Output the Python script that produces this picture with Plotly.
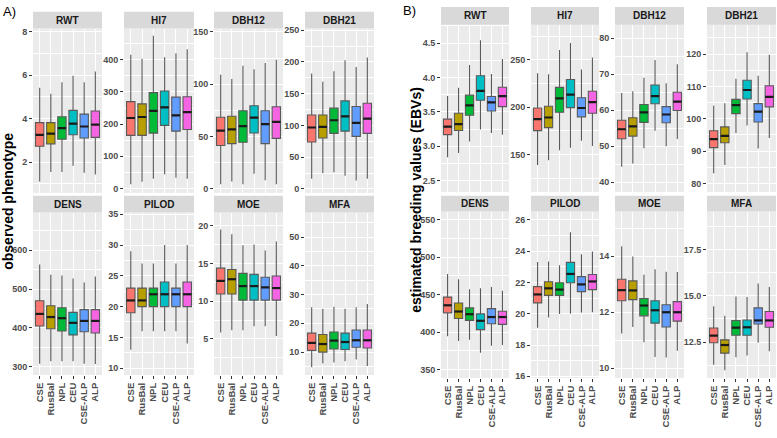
import plotly.graph_objects as go

# ---------------- data ----------------
categories = ["CSE", "RusBal", "NPL", "CEU", "CSE-ALP", "ALP"]
colors = ["#F8766D", "#B79F00", "#00BA38", "#00BFC4", "#619CFF", "#F564E3"]
traits = ["RWT", "HI7", "DBH12", "DBH21", "DENS", "PILOD", "MOE", "MFA"]

# Panel A: observed phenotype (lower whisker, Q1, median, Q3, upper whisker)
A_RWT = {"low": [1.10, 1.54, 1.54, 1.83, 1.51, 1.43], "q1": [2.73, 2.84, 3.05, 3.26, 3.11, 3.14],
         "med": [3.25, 3.31, 3.56, 3.77, 3.64, 3.73], "q3": [3.82, 3.82, 4.09, 4.38, 4.21, 4.35],
         "high": [5.43, 5.15, 5.68, 5.98, 5.68, 6.17]}
A_HI7 = {"low": [13, 21, 30, 44, 33, 30], "q1": [165, 165, 172, 196, 178, 183],
         "med": [219, 222, 241, 252, 227, 237], "q3": [270, 263, 298, 303, 284, 285],
         "high": [416, 403, 475, 408, 420, 433]}
A_DBH12 = {"low": [4.4, 7.2, 4.4, 14.4, 8.2, 4.4], "q1": [41.4, 43.3, 44.6, 53.4, 43.3, 48.3],
           "med": [55.6, 56.8, 60.0, 68.1, 61.8, 64.0], "q3": [68.4, 69.4, 74.7, 79.4, 74.7, 78.5],
           "high": [109, 105, 117.7, 114.2, 120.2, 123.3]}
A_DBH21 = {"low": [16, 24.8, 26.4, 20.7, 13.5, 16], "q1": [74, 80.2, 87.5, 91.1, 82.8, 87.5],
           "med": [96.8, 97.8, 108.2, 114.4, 104, 110.8], "q3": [116.5, 116.5, 127.3, 138.7, 129.9, 135.1],
           "high": [181.7, 168.7, 185.3, 202.9, 192, 207]}
A_DENS = {"low": [308, 314, 314, 314, 308, 307], "q1": [405, 398, 392, 382, 390, 387],
          "med": [436, 428, 425, 413, 418, 418], "q3": [470, 457, 452, 440, 447, 447],
          "high": [563, 537, 535, 527, 517, 532]}
A_PILOD = {"low": [13, 16, 16, 16, 16, 14], "q1": [19, 20, 20, 20, 20, 20],
           "med": [21, 21, 22, 22, 22, 22], "q3": [23, 23, 23, 24, 23, 24],
           "high": [29, 27, 27, 30, 27, 30]}
A_MOE = {"low": [5.86, 6.17, 6.17, 6.68, 6.68, 5.39], "q1": [10.96, 10.96, 10.14, 10.14, 10.14, 10.14],
         "med": [12.69, 12.91, 12.0, 12.0, 11.83, 11.74], "q3": [14.38, 14.2, 13.69, 13.56, 13.17, 13.34],
         "high": [19.5, 18.88, 17.4, 17.5, 16.72, 17.9]}
A_MFA = {"low": [4.7, 6.0, 6.4, 6.8, 7.4, 5.2], "q1": [10.6, 10.0, 11.1, 10.9, 11.7, 11.4],
         "med": [13.2, 12.8, 14.0, 13.5, 14.1, 14.1], "q3": [16.6, 16.1, 17.0, 16.6, 17.7, 17.7],
         "high": [25.6, 25.1, 25.8, 25.1, 25.6, 26.7]}

# Panel B: estimated breeding values (EBVs)
B_RWT = {"low": [2.84, 2.905, 3.07, 3.243, 3.195, 3.167], "q1": [3.17, 3.23, 3.452, 3.67, 3.514, 3.576],
         "med": [3.286, 3.324, 3.595, 3.805, 3.638, 3.729], "q3": [3.395, 3.48, 3.743, 4.024, 3.724, 3.857],
         "high": [3.73, 3.85, 4.18, 4.54, 4.05, 4.27]}
B_HI7 = {"low": [139, 144.1, 154.5, 157.3, 164.5, 159], "q1": [175.3, 178.4, 194.6, 199.5, 189.8, 193.6],
         "med": [187.4, 189.1, 209.2, 213.3, 199.1, 205.4], "q3": [199.1, 200.9, 220.9, 229.2, 209.9, 216.8],
         "high": [235.8, 234.8, 260.4, 267.6, 239.6, 252.4]}
B_DBH12 = {"low": [44.3, 45.2, 49.4, 54.3, 50.0, 52.0], "q1": [52.05, 52.8, 56.6, 61.8, 56.5, 59.9],
           "med": [54.7, 55.5, 59.4, 63.9, 58.8, 62.4], "q3": [57.2, 57.9, 61.6, 67.0, 61.0, 65.0],
           "high": [64.8, 65.3, 69.0, 74.0, 67.5, 72.8]}
B_DBH21 = {"low": [83.2, 85.7, 95.6, 97.9, 90.8, 94.1], "q1": [91.1, 92.6, 101.6, 106.1, 99.0, 103.7],
           "med": [93.7, 94.7, 104.2, 108.9, 102.2, 106.8], "q3": [96.3, 97.5, 106.0, 111.9, 104.7, 110.2],
           "high": [104.0, 104.8, 112.4, 120.6, 113.3, 119.8]}
B_DENS = {"low": [394.4, 387.8, 389.6, 372.4, 381.6, 382.5], "q1": [425.6, 418.1, 415.5, 403.2, 411.1, 410.2],
          "med": [435.7, 427.4, 423.8, 415.0, 420.0, 420.0], "q3": [446.7, 438.8, 432.2, 424.3, 431.3, 427.8],
          "high": [477.5, 470.4, 457.3, 458.6, 460.3, 455.0]}
B_PILOD = {"low": [19.11, 19.75, 19.98, 20.0, 20.07, 20.1], "q1": [20.69, 21.17, 21.17, 21.98, 21.41, 21.54],
           "med": [21.23, 21.62, 21.54, 22.54, 21.87, 22.06], "q3": [21.73, 22.04, 21.98, 23.28, 22.37, 22.5],
           "high": [23.3, 23.34, 23.1, 25.2, 23.8, 23.97]}
B_MOE = {"low": [11.24, 11.47, 10.93, 10.4, 10.38, 10.62], "q1": [12.41, 12.45, 11.87, 11.61, 11.47, 11.68],
         "med": [12.79, 12.78, 12.24, 12.07, 12.0, 12.0], "q3": [13.18, 13.12, 12.49, 12.41, 12.27, 12.38],
         "high": [14.36, 13.99, 13.34, 13.54, 13.45, 13.44]}
B_MFA = {"low": [11.27, 10.97, 11.68, 11.77, 12.46, 12.0], "q1": [12.46, 11.9, 12.87, 12.87, 13.48, 13.3],
         "med": [12.85, 12.34, 13.28, 13.3, 13.67, 13.67], "q3": [13.26, 12.62, 13.67, 13.69, 14.35, 14.15],
         "high": [14.44, 13.92, 14.97, 14.94, 15.67, 15.48]}

A_data = [A_RWT, A_HI7, A_DBH12, A_DBH21, A_DENS, A_PILOD, A_MOE, A_MFA]
B_data = [B_RWT, B_HI7, B_DBH12, B_DBH21, B_DENS, B_PILOD, B_MOE, B_MFA]

# axis scales: (range, tick0, dtick, tickformat)
A_axes = [([0.58, 8.15], 0, 2, ""), ([-14, 497], 0, 100, ""), ([-3.8, 153.1], 0, 50, ""),
          ([-6.2, 252.6], 0, 50, ""), ([279, 696.6], 0, 100, ""), ([8.89, 35.27], 0, 5, ""),
          ([0.24, 21.73], 0, 5, ""), ([2.05, 58.5], 0, 10, "")]
B_axes = [([2.338, 4.767], 0, 0.5, ".1f"), ([110.6, 287], 0, 50, ""), ([37.26, 83.8], 0, 10, ""),
          ([77.4, 129.1], 0, 10, ""), ([338.6, 561], 0, 50, ""), ([15.9, 26.52], 0, 2, ""),
          ([9.65, 15.6], 0, 2, ""), ([10.56, 19.56], 0, 2.5, ".1f")]

# ---------------- layout geometry (pixels) ----------------
W, H = 777, 438
panels = [
    dict(data=A_data, axes=A_axes,
         cols=[(33, 102), (124, 194), (214, 283), (305, 374)],
         rows=[(26, 193), (213, 378)], strips=[(9, 26), (196, 213)],
         title="observed phenotype", tx=8, ty=202, tag="A)", tagx=1, tagy=9),
    dict(data=B_data, axes=B_axes,
         cols=[(441, 509), (531, 599), (615, 684), (707, 776)],
         rows=[(22, 192), (212, 381)], strips=[(4, 22), (196, 212)],
         title="estimated breeding values (EBVs)", tx=416, ty=200, tag="B)", tagx=401, tagy=8),
]


def px(x):
    return x / W


def py(y):
    return 1 - y / H


FONT = "Liberation Sans, Arial, sans-serif"
fig = go.Figure()
layout = {}
shapes = []
annotations = []
half = 0.375
idx = 0
for p in panels:
    for k, name in enumerate(traits):
        idx += 1
        r, c = divmod(k, 4)
        sfx = "" if idx == 1 else str(idx)
        xn, yn = "x" + sfx, "y" + sfx
        x0, x1 = p["cols"][c]
        y0, y1 = p["rows"][r]
        s0, s1 = p["strips"][r]
        rng, t0, dt, fmt = p["axes"][k]
        d = p["data"][k]
        layout["xaxis" + sfx] = dict(
            domain=[px(x0), px(x1)], range=[-0.6, 5.6], anchor=yn,
            tickmode="array", tickvals=list(range(len(categories))), ticktext=categories,
            showticklabels=(r == 1), ticks="outside" if r == 1 else "", ticklen=3,
            tickcolor="#333333", tickangle=-90, showgrid=True, gridcolor="white",
            gridwidth=1.1, zeroline=False, showline=False, fixedrange=True,
            tickfont=dict(family=FONT, size=9.5, color="#4D4D4D", weight="bold"))
        layout["yaxis" + sfx] = dict(
            domain=[py(y1), py(y0)], range=rng, anchor=xn, tickmode="linear",
            tick0=t0, dtick=dt, tickformat=fmt, ticks="outside", ticklen=3,
            tickcolor="#333333", showgrid=True, gridcolor="white", gridwidth=1.1,
            minor=dict(tick0=t0, dtick=dt / 2, showgrid=True, gridcolor="white",
                       gridwidth=0.5, ticks=""),
            zeroline=False, showline=False, fixedrange=True,
            tickfont=dict(family=FONT, size=9, color="#4D4D4D", weight="bold"))
        for i, cat in enumerate(categories):
            fig.add_trace(go.Box(
                x=[i], lowerfence=[d["low"][i]], q1=[d["q1"][i]], median=[d["med"][i]],
                q3=[d["q3"][i]], upperfence=[d["high"][i]], width=0.75,
                fillcolor=colors[i], line=dict(color="#595959", width=1.1),
                whiskerwidth=0, boxpoints=False, xaxis=xn, yaxis=yn,
                showlegend=False, name=cat))
        mx, my = [], []
        for i in range(len(categories)):
            mx += [i - half, i + half, None]
            my += [d["med"][i], d["med"][i], None]
        fig.add_trace(go.Scatter(x=mx, y=my, mode="lines", xaxis=xn, yaxis=yn,
                                 line=dict(color="#1A1A1A", width=2.2),
                                 showlegend=False, hoverinfo="skip"))
        shapes.append(dict(type="rect", xref="paper", yref="paper",
                           x0=px(x0), x1=px(x1), y0=py(s1), y1=py(s0),
                           fillcolor="#D9D9D9", line=dict(width=0)))
        annotations.append(dict(text=name, xref="paper", yref="paper",
                                x=px((x0 + x1) / 2), y=py((s0 + s1) / 2),
                                showarrow=False, xanchor="center", yanchor="middle",
                                font=dict(family=FONT, size=10, color="#1A1A1A", weight="bold")))
    annotations.append(dict(text=p["title"], xref="paper", yref="paper",
                            x=px(p["tx"]), y=py(p["ty"]), textangle=-90, showarrow=False,
                            xanchor="center", yanchor="middle",
                            font=dict(family=FONT, size=14, color="black", weight="bold")))
    annotations.append(dict(text=p["tag"], xref="paper", yref="paper",
                            x=px(p["tagx"]), y=py(p["tagy"]), showarrow=False,
                            xanchor="left", yanchor="middle",
                            font=dict(family=FONT, size=13, color="black")))

fig.update_layout(
    width=W, height=H, margin=dict(l=0, r=0, t=0, b=0),
    paper_bgcolor="white", plot_bgcolor="#EBEBEB",
    shapes=shapes, annotations=annotations, boxmode="overlay",
    **layout)

fig.write_html("out.html", config={"displayModeBar": False},
               post_script="document.body.style.margin='0';document.body.style.overflow='hidden';")
